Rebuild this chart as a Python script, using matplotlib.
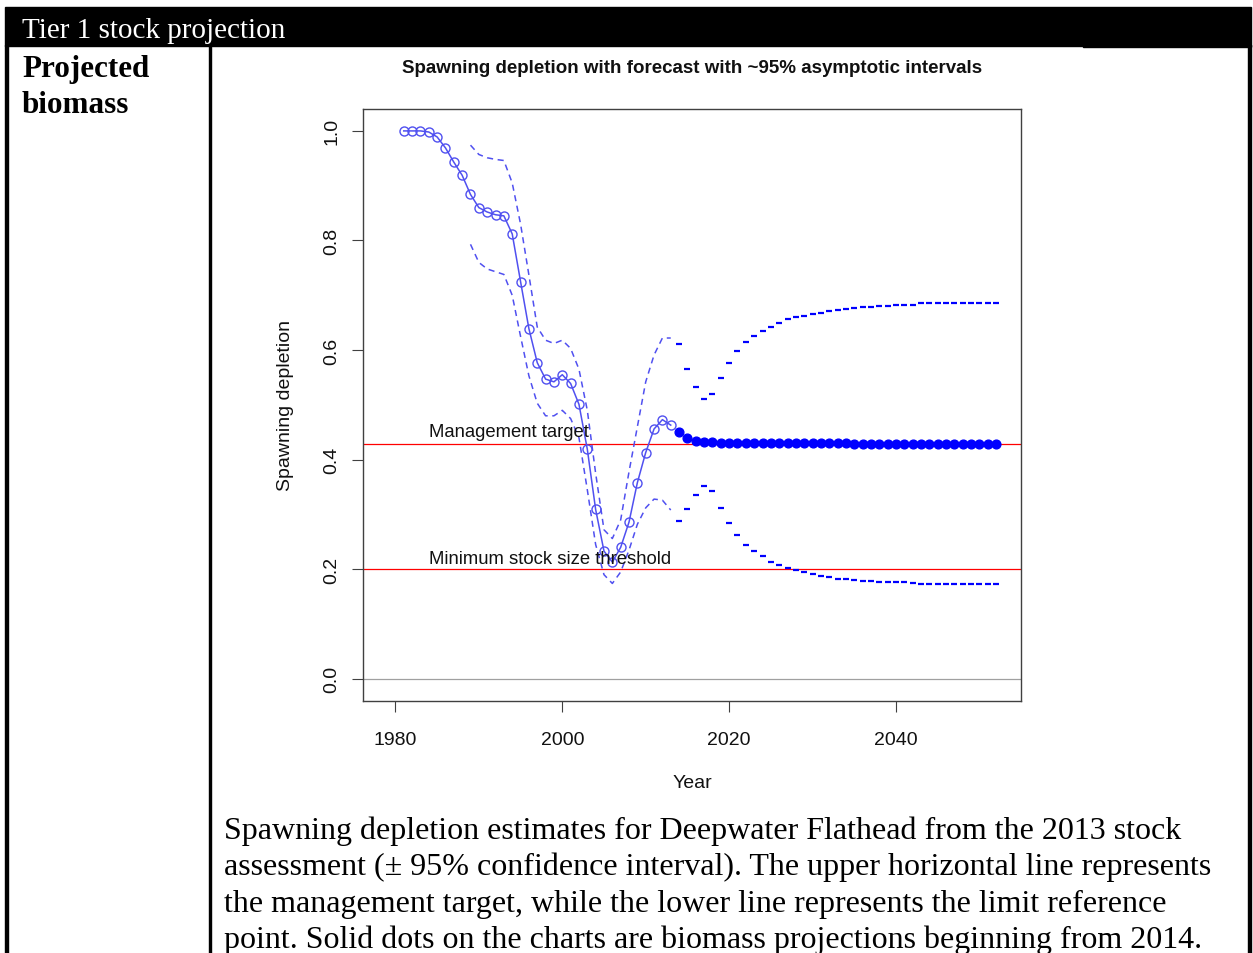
import matplotlib
matplotlib.use('Agg')
import matplotlib.pyplot as plt
from matplotlib.patches import Rectangle

# historical spawning depletion (open circles)
years_hist = list(range(1981, 2014))
depl_hist = [1.000, 1.000, 1.000, 0.998, 0.989, 0.969, 0.943, 0.919, 0.884, 0.860,
             0.852, 0.847, 0.845, 0.812, 0.725, 0.639, 0.577, 0.547, 0.542, 0.555,
             0.539, 0.501, 0.419, 0.309, 0.233, 0.213, 0.240, 0.286, 0.358, 0.413,
             0.456, 0.473, 0.463]

# ~95% interval, historical part (dashed)
years_ci = list(range(1989, 2014))
upper_hist = [0.974, 0.957, 0.951, 0.948, 0.946, 0.905, 0.830, 0.737, 0.642, 0.618,
              0.612, 0.618, 0.603, 0.565, 0.490, 0.375, 0.272, 0.256, 0.290, 0.378,
              0.460, 0.542, 0.591, 0.622, 0.622]
lower_hist = [0.793, 0.760, 0.748, 0.743, 0.738, 0.700, 0.625, 0.553, 0.503, 0.480,
              0.480, 0.490, 0.475, 0.440, 0.345, 0.245, 0.190, 0.174, 0.195, 0.235,
              0.282, 0.312, 0.328, 0.326, 0.308]

# forecast from 2014 (solid dots + short dashes)
years_fore = list(range(2014, 2053))
depl_fore = [0.450, 0.439, 0.434, 0.433, 0.432, 0.431, 0.431, 0.431, 0.431, 0.431,
             0.431, 0.431, 0.431, 0.431, 0.431, 0.431, 0.431, 0.431, 0.431, 0.431,
             0.431, 0.429, 0.429, 0.429, 0.429, 0.429, 0.429, 0.429, 0.429, 0.429,
             0.429, 0.429, 0.429, 0.429, 0.429, 0.429, 0.429, 0.429, 0.429]
upper_fore = [0.611, 0.565, 0.532, 0.511, 0.519, 0.549, 0.577, 0.598, 0.615, 0.626,
              0.635, 0.642, 0.650, 0.656, 0.660, 0.663, 0.666, 0.668, 0.671, 0.673,
              0.675, 0.677, 0.678, 0.679, 0.680, 0.681, 0.682, 0.683, 0.683, 0.685,
              0.685, 0.685, 0.685, 0.685, 0.685, 0.685, 0.685, 0.685, 0.685]
lower_fore = [0.288, 0.309, 0.335, 0.352, 0.343, 0.312, 0.284, 0.262, 0.244, 0.233,
              0.224, 0.214, 0.208, 0.203, 0.199, 0.195, 0.191, 0.188, 0.186, 0.183,
              0.182, 0.180, 0.179, 0.178, 0.177, 0.177, 0.176, 0.176, 0.174, 0.173,
              0.173, 0.173, 0.173, 0.173, 0.173, 0.173, 0.173, 0.173, 0.173]

target = 0.429
threshold = 0.2

xticks = [1980, 2000, 2020, 2040]
yticks = [0.0, 0.2, 0.4, 0.6, 0.8, 1.0]

caption = [
    'Spawning depletion estimates for Deepwater Flathead from the 2013 stock',
    'assessment (\u00b1 95% confidence interval). The upper horizontal line represents',
    'the management target, while the lower line represents the limit reference',
    'point. Solid dots on the charts are biomass projections beginning from 2014.',
]

W, H = 1253, 954
fig = plt.figure(figsize=(W / 100, H / 100), dpi=100)

# page / table layer, pixel coords
page = fig.add_axes([0, 0, 1, 1])
page.set_xlim(0, W)
page.set_ylim(H, 0)
page.axis('off')
page.add_patch(Rectangle((5, 8), 1246, 39, color='black'))
page.add_patch(Rectangle((1083, 46), 168, 2, color='black'))
page.add_patch(Rectangle((5, 46), 3, H - 46, color='black'))
page.add_patch(Rectangle((208.5, 46), 2.5, H - 46, color='black'))
page.add_patch(Rectangle((1247.5, 46), 3, H - 46, color='black'))

serif = 'Liberation Serif'
page.text(22, 38, 'Tier 1 stock projection', color='white', family=serif,
          fontsize=21, va='baseline', ha='left')
page.text(22, 77, 'Projected', family=serif, fontsize=22.4, fontweight='bold', va='baseline')
page.text(22, 113, 'biomass', family=serif, fontsize=22.4, fontweight='bold', va='baseline')
for i, line in enumerate(caption):
    page.text(224, 839 + i * 36.3, line, family=serif, fontsize=23, va='baseline')

# chart
sans = 'Liberation Sans'
plt.rcParams['font.family'] = sans
c_hist = '#5050f0'

ax = fig.add_axes([362.7 / W, (H - 701.7) / H, (1020.5 - 362.7) / W, (701.7 - 110) / H])
ax.set_xlim(1976.08, 2054.92)
ax.set_ylim(-0.04, 1.04)

ax.axhline(0, color='#a0a0a0', lw=0.9)
ax.axhline(target, color='red', lw=0.9)
ax.axhline(threshold, color='red', lw=0.9)

ax.plot(years_hist, depl_hist, '-', color=c_hist, lw=1.1)
ax.plot(years_hist, depl_hist, 'o', mfc='none', mec=c_hist, ms=6.5, mew=1.0)
ax.plot(years_ci, upper_hist, color=c_hist, lw=1.1, dashes=(4, 3))
ax.plot(years_ci, lower_hist, color=c_hist, lw=1.1, dashes=(4, 3))

ax.plot(years_fore, depl_fore, 'o', color='blue', ms=6.3)
ax.plot(years_fore, upper_fore, '_', color='blue', ms=5, mew=1.6, ls='none')
ax.plot(years_fore, lower_fore, '_', color='blue', ms=5, mew=1.6, ls='none')

ax.text(1984.03, 0.444, 'Management target', fontsize=13.3, va='baseline', color='#111111')
ax.text(1984.03, 0.212, 'Minimum stock size threshold', fontsize=13.3, va='baseline', color='#111111')

ax.set_xticks(xticks)
ax.set_xticklabels([str(x) for x in xticks])
ax.set_yticks(yticks)
ax.set_yticklabels(['%.1f' % y for y in yticks], rotation=90, va='center')
ax.tick_params(axis='both', length=8, width=0.8, color='#404040', labelsize=14, labelcolor='#111111')
ax.tick_params(axis='x', pad=13.5)
ax.tick_params(axis='y', pad=8)
for s in ax.spines.values():
    s.set_color('#404040')
    s.set_linewidth(1)

fig.text(691.6 / W, 1 - 68.5 / H, 'Spawning depletion with forecast with ~95% asymptotic intervals',
         ha='center', va='center', fontsize=13.5, fontweight='bold', color='#111111')
fig.text(692 / W, 1 - 783 / H, 'Year', ha='center', va='center', fontsize=14, color='#111111')
fig.text(285 / W, 1 - 406 / H, 'Spawning depletion', ha='center', va='center', rotation=90,
         fontsize=14, color='#111111')

fig.savefig('out.png', dpi=100)
